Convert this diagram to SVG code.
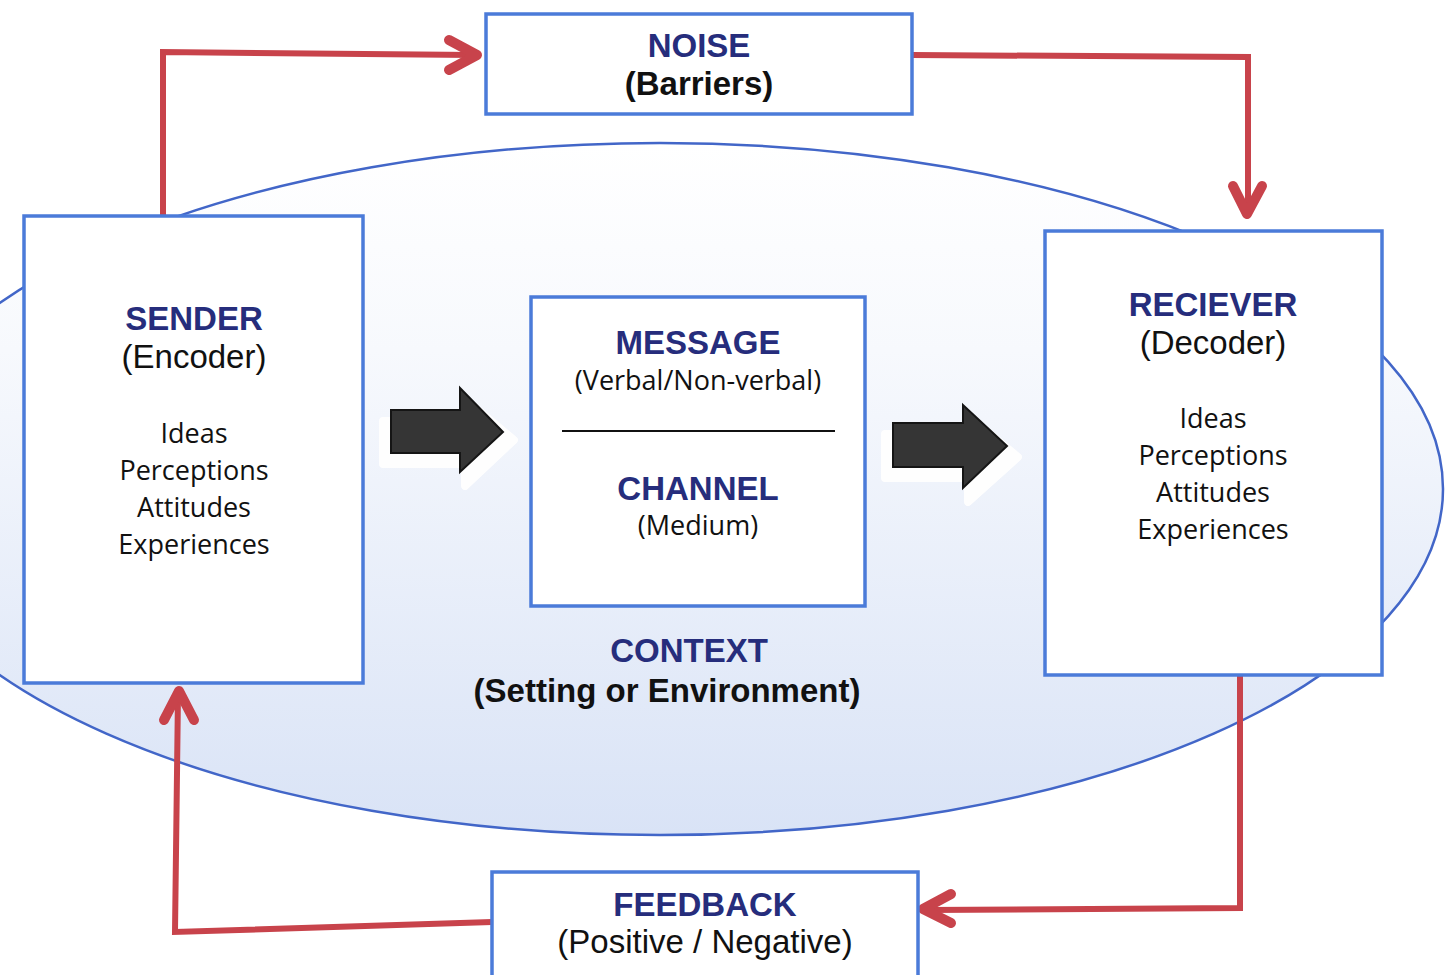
<svg xmlns="http://www.w3.org/2000/svg" width="1453" height="975" viewBox="0 0 1453 975">
<defs>
<linearGradient id="ctxfill" x1="0" y1="0" x2="0" y2="1">
<stop offset="0" stop-color="#ffffff"/>
<stop offset="0.3" stop-color="#f7f9fd"/>
<stop offset="1" stop-color="#d9e3f6"/>
</linearGradient>
<style>
.box{fill:#ffffff;stroke:#4b7bd9;stroke-width:3.5}
.title{font-family:"Liberation Sans",Arial,sans-serif;font-weight:bold;font-size:33px;fill:#262d7c;text-anchor:middle}
.sub{font-family:"Liberation Sans",Arial,sans-serif;font-size:33px;fill:#111111;text-anchor:middle}
.subb{font-family:"Liberation Sans",Arial,sans-serif;font-weight:bold;font-size:33px;fill:#111111;text-anchor:middle}
.list{font-family:"Open Sans","Liberation Sans",sans-serif;font-size:27px;fill:#111111;text-anchor:middle}
.red{fill:none;stroke:#c8434b;stroke-width:6;stroke-linejoin:miter}
.head{fill:none;stroke:#c8434b;stroke-width:10;stroke-linecap:round;stroke-linejoin:round}
.blk{fill:#353535;stroke:#151515;stroke-width:2;stroke-linejoin:miter}
.shadow{fill:#ffffff;stroke:#ffffff;stroke-width:8;stroke-linejoin:round;opacity:0.95}
</style>
</defs>
<rect x="0" y="0" width="1453" height="975" fill="#ffffff"/>

<g id="context">
<ellipse cx="660" cy="489" rx="783" ry="346" fill="url(#ctxfill)" stroke="#4266c8" stroke-width="2.5"/>
<text class="title" x="689" y="662" font-size="38">CONTEXT</text>
<text class="subb" x="667" y="702">(Setting or Environment)</text>
</g>

<g id="connectors">
<path class="red" d="M163,216 L163,52 L474,55"/>
<path class="head" d="M449,40 L477,55 L449,70"/>
<path class="red" d="M912,55 L1248,57 L1248,212"/>
<path class="head" d="M1233,186 L1247,214 L1262,186"/>
<path class="red" d="M1240,675 L1240,908 L926,910"/>
<path class="head" d="M951,894 L923,909 L951,923"/>
<path class="red" d="M492,922 L175,932 L178,694"/>
<path class="head" d="M164,720 L179,691 L194,720"/>
<polygon class="shadow" points="383,421 465,421 465,399 514,440 465,486 465,464 383,464"/>
<polygon class="blk" points="391,410 460,410 460,388 503,432 460,472 460,453 391,453"/>
<polygon class="shadow" points="885,434 968,434 968,416 1018,457 968,502 968,478 885,478"/>
<polygon class="blk" points="893,423 963,423 963,405 1007,446 963,488 963,467 893,467"/>
</g>

<g id="noise">
<rect class="box" x="486" y="14" width="426" height="100"/>
<text class="title" x="699" y="57">NOISE</text>
<text class="subb" x="699" y="95">(Barriers)</text>
</g>

<g id="sender">
<rect class="box" x="24" y="216" width="339" height="467"/>
<text class="title" x="194" y="330">SENDER</text>
<text class="sub" x="194" y="368">(Encoder)</text>
<text class="list" x="194" y="443">Ideas</text>
<text class="list" x="194" y="480">Perceptions</text>
<text class="list" x="194" y="517">Attitudes</text>
<text class="list" x="194" y="554">Experiences</text>
</g>

<g id="message">
<rect class="box" x="531" y="297" width="334" height="309"/>
<text class="title" x="698" y="354">MESSAGE</text>
<text class="list" x="698" y="390" font-size="27.5">(Verbal/Non-verbal)</text>
<line x1="562" y1="431" x2="835" y2="431" stroke="#111111" stroke-width="2"/>
<text class="title" x="698" y="500" font-size="30">CHANNEL</text>
<text class="list" x="698" y="535">(Medium)</text>
</g>

<g id="receiver">
<rect class="box" x="1045" y="231" width="337" height="444"/>
<text class="title" x="1213" y="316">RECIEVER</text>
<text class="sub" x="1213" y="354">(Decoder)</text>
<text class="list" x="1213" y="428">Ideas</text>
<text class="list" x="1213" y="465">Perceptions</text>
<text class="list" x="1213" y="502">Attitudes</text>
<text class="list" x="1213" y="539">Experiences</text>
</g>

<g id="feedback">
<rect class="box" x="492" y="872" width="426" height="115"/>
<text class="title" x="705" y="916">FEEDBACK</text>
<text class="sub" x="705" y="953">(Positive / Negative)</text>
</g>
</svg>
